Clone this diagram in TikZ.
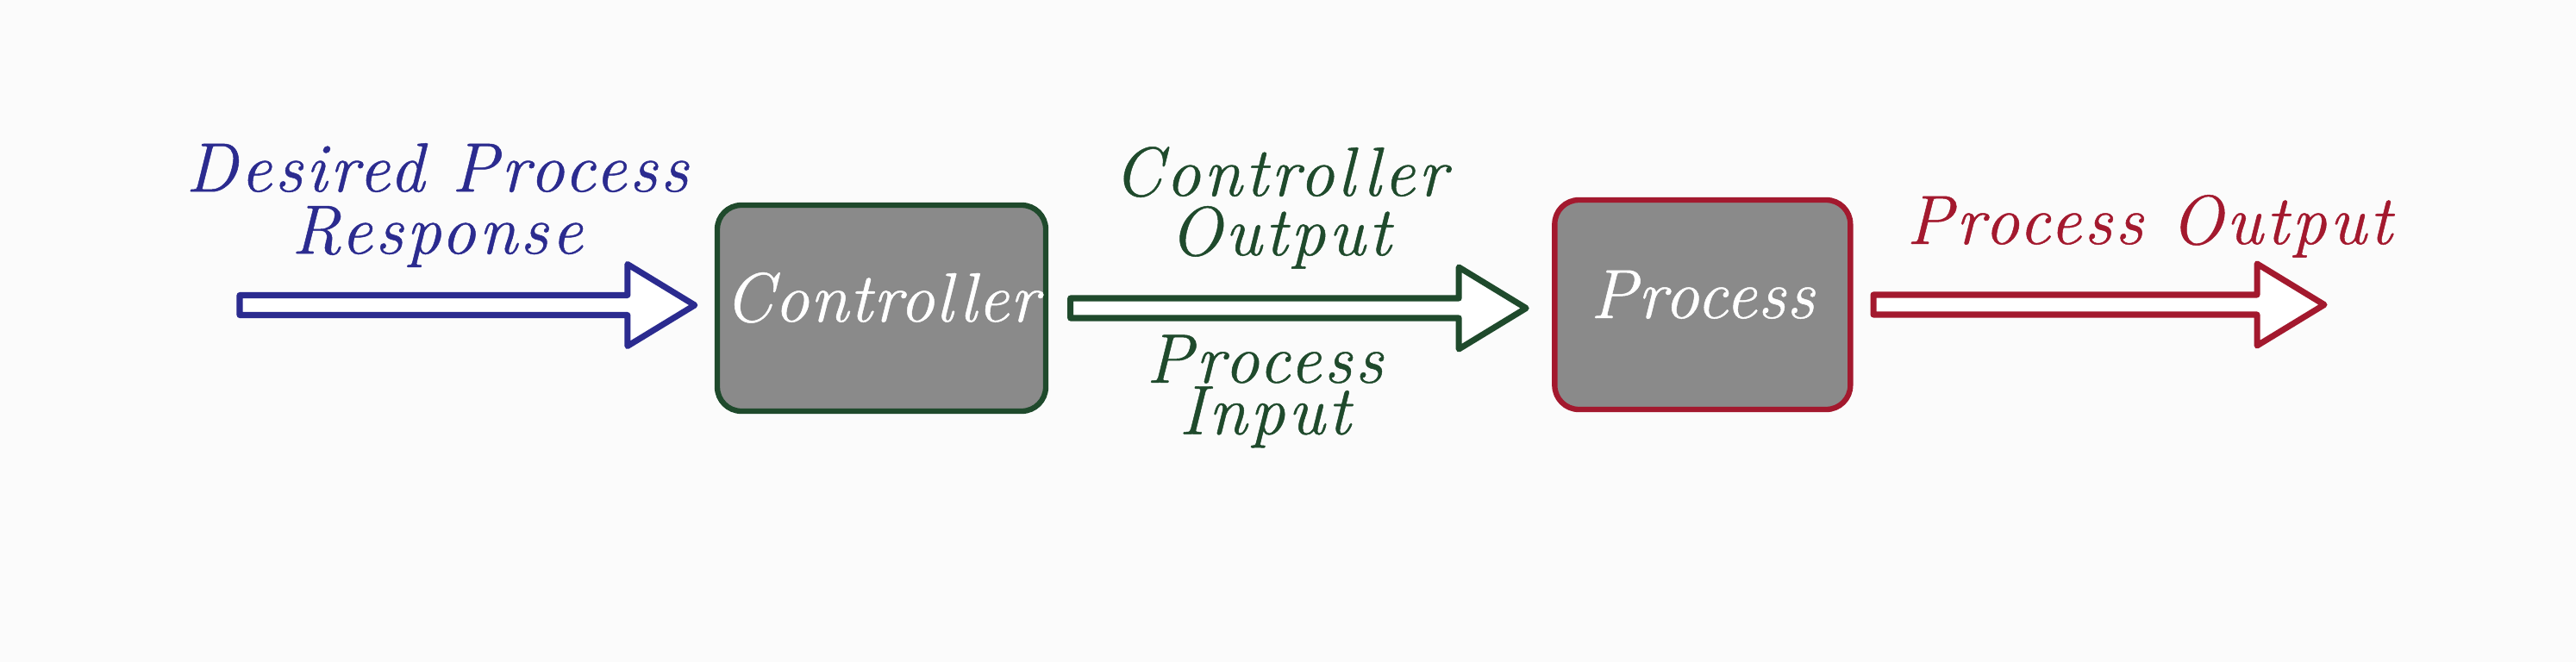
\documentclass[tikz,border=0pt]{standalone}
\usepackage{fontspec}
\usepackage{xcolor}
\usepackage{tikz}
\usetikzlibrary{positioning,calc}
\newfontfamily\sigfam{Latin Modern Roman}[LetterSpace=4.5,FakeBold=0.6]
\newfontfamily\boxfam{Latin Modern Roman}[LetterSpace=1.5,FakeBold=0.6]
\definecolor{refblue}{HTML}{2B2B8F}
\definecolor{ctrlgreen}{HTML}{1F4A2C}
\definecolor{outred}{HTML}{A3192E}
\definecolor{boxgray}{HTML}{8A8A8A}
\definecolor{paper}{HTML}{FBFBFB}
\newcommand{\sigfont}[1]{\sigfam\fontsize{23}{#1}\selectfont\itshape}
\tikzset{
  block/.style={draw=#1, rounded corners=0.28cm, fill=boxgray, line width=1.8pt,
    text=white, font=\boxfam\fontsize{23}{20}\selectfont\itshape, inner xsep=0pt,
    text height=0.56cm, text depth=0.25cm},
  signal/.style={align=center, inner sep=0pt, text=#1, font=\sigfont{20.5}},
  arrow/.style={draw=#1, fill=white, line width=2pt, line join=round,
    to path={let \p1=(\tikztostart), \p2=(\tikztotarget) in
      (\x1,\y1+0.115cm) -- (\x2-0.78cm,\y1+0.115cm) -- (\x2-0.78cm,\y1+0.475cm)
      -- (\x2,\y1) -- (\x2-0.78cm,\y1-0.475cm) -- (\x2-0.78cm,\y1-0.115cm)
      -- (\x1,\y1-0.115cm) -- cycle}}
}
\begin{document}
\begin{tikzpicture}
  \useasboundingbox (0,0) rectangle (29.88,-7.68);
  \fill[paper] (0,0) rectangle (29.88,-7.68);

  \node[block=ctrlgreen, minimum width=3.81cm, minimum height=2.39cm] (ctrl) at (10.225,-3.575) {Controller};
  \node[block=outred, minimum width=3.43cm, minimum height=2.43cm, right=5.84cm of ctrl, yshift=0.4mm] (proc) {Process};

  \coordinate (setpoint) at (2.78,-3.54);
  \coordinate (result) at (26.96,-3.54);

  \node[signal=refblue] (desired) at (5.07,-2.38) {Desired Process\\Response};
  \node[signal=ctrlgreen, font=\sigfont{19.6}] (ctrlout) at (14.85,-2.41) {Controller\\Output};
  \node[signal=ctrlgreen, font=\sigfont{17}] (procin) at (14.67,-4.54) {Process\\Input};
  \node[signal=outred, anchor=base] (procout) at (24.93,-2.83) {Process Output};

  \draw[arrow=refblue] (setpoint) to ([xshift=-0.23cm]ctrl.west);
  \draw[arrow=ctrlgreen] ([xshift=0.255cm]ctrl.east) to ([xshift=-0.3cm]proc.west);
  \draw[arrow=outred] ([xshift=0.235cm]proc.east) to (result);
\end{tikzpicture}
\end{document}
